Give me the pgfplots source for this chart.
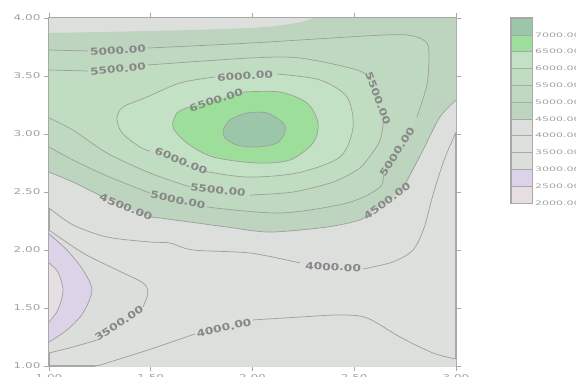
\documentclass[border=0pt]{standalone}
\usepackage{pgfplots}
\pgfplotsset{compat=1.18}
\usepackage{fontspec}
\setmainfont{DejaVu Sans}
\newfontfamily\tickfont[FakeStretch=1.5]{DejaVu Sans}
\newfontfamily\cbfont[FakeStretch=1.8]{DejaVu Sans}
\newfontfamily\lblfont[FakeStretch=1.25]{DejaVu Sans}
\definecolor{c7000}{RGB}{156,198,170}
\definecolor{c6500}{RGB}{158,222,155}
\definecolor{c6000}{RGB}{195,225,197}
\definecolor{c5500}{RGB}{192,221,194}
\definecolor{c5000}{RGB}{190,217,192}
\definecolor{c4500}{RGB}{189,212,191}
\definecolor{c4000}{RGB}{220,223,220}
\definecolor{c3500}{RGB}{222,224,222}
\definecolor{c3000}{RGB}{219,222,218}
\definecolor{c2500}{RGB}{221,211,232}
\definecolor{c2000}{RGB}{230,222,227}
\definecolor{linegray}{RGB}{158,158,158}
\definecolor{lblgray}{RGB}{136,136,136}
\definecolor{tickgray}{RGB}{160,160,160}
\definecolor{axgray}{RGB}{168,168,168}
\pgfplotsset{
  cfill/.style={draw=none, smooth, mark=none, fill=#1},
  cline/.style={draw=linegray, line width=0.7pt, smooth, mark=none},
}
\newcommand{\clabel}[4]{\node[rotate=#3, inner sep=0pt, text=lblgray, font=\lblfont\bfseries\fontsize{9.8}{10}\selectfont] at (axis cs:#1,#2) {#4};}
\begin{document}
\begin{tikzpicture}
\path[use as bounding box] (0,0) rectangle (576pt,376pt);
\begin{axis}[
  at={(49pt,10pt)}, anchor=south west,
  width=407pt, height=348pt, scale only axis,
  xmin=1, xmax=3, ymin=1, ymax=4,
  xtick={1,1.5,2,2.5,3}, ytick={1,1.5,2,2.5,3,3.5,4},
  tick align=outside, tick pos=both, major tick length=5pt,
  axis line style={draw=axgray, line width=1.2pt},
  every tick/.style={draw=axgray, line width=0.9pt},
  tick label style={font=\tickfont\fontsize{8}{9}\selectfont, text=tickgray},
  /pgf/number format/fixed, /pgf/number format/fixed zerofill,
  /pgf/number format/precision=2, /pgf/number format/assume math mode=true,
  axis background/.style={fill=c3500},
  clip=true,
]
% ---- filled regions ----
\addplot[cfill=c4000] coordinates {(0.85,2.50)(1,2.362)(1.118,2.216)(1.285,2.112)(1.496,2.069)(1.595,2.060)(1.708,2.000)(1.988,1.974)(2.233,1.888)(2.396,1.853)(2.543,1.836)(2.690,1.897)(2.789,2.000)(2.843,2.190)(2.877,2.414)(2.912,2.621)(2.951,2.819)(3,3.017)(3.1,3.25)(3.15,4.15)(0.85,4.15)} -- cycle;
\addplot[cfill=c4000] coordinates {(1.0,0.87)(1.236,1.0)(1.486,1.138)(1.717,1.276)(1.860,1.328)(2.002,1.397)(2.233,1.422)(2.430,1.440)(2.563,1.414)(2.725,1.250)(2.887,1.112)(3,1.060)(3.15,1.0)(3.15,0.85)(1.2,0.80)} -- cycle;
\addplot[cfill=c4500] coordinates {(0.85,3.87)(1,3.871)(1.496,3.888)(1.988,3.914)(2.184,3.948)(2.297,4)(2.4,4.15)(3.15,4.15)(3.15,3.35)(3,3.293)(2.921,3.147)(2.838,2.862)(2.740,2.534)(2.661,2.422)(2.577,2.319)(2.528,2.259)(2.366,2.198)(2.086,2.155)(1.875,2.198)(1.545,2.276)(1.496,2.284)(1.378,2.371)(1.265,2.457)(1.118,2.586)(1,2.672)(0.85,2.78)} -- cycle;
\addplot[cfill=c5000] coordinates {(0.85,3.73)(1,3.724)(1.191,3.716)(1.339,3.720)(1.486,3.741)(1.988,3.784)(2.641,3.853)(2.789,3.845)(2.857,3.784)(2.867,3.664)(2.857,3.422)(2.808,3.147)(2.710,2.845)(2.641,2.690)(2.627,2.543)(2.464,2.405)(2.135,2.319)(1.776,2.371)(1.634,2.431)(1.496,2.491)(1.285,2.638)(1.118,2.776)(1,2.888)(0.85,2.98)} -- cycle;
\addplot[cfill=c5500] coordinates {(0.85,3.56)(1,3.552)(1.191,3.543)(1.339,3.560)(1.486,3.595)(1.988,3.655)(2.233,3.655)(2.514,3.552)(2.582,3.466)(2.617,3.310)(2.646,3.155)(2.627,2.948)(2.563,2.776)(2.514,2.690)(2.396,2.586)(2.199,2.500)(1.988,2.474)(1.830,2.517)(1.693,2.543)(1.496,2.664)(1.285,2.836)(1.118,3.034)(1,3.138)(0.85,3.2)} -- cycle;
\addplot[cfill=c6000] coordinates {(2.120,3.517)(2.332,3.466)(2.464,3.319)(2.494,3.060)(2.430,2.802)(2.219,2.664)(1.973,2.629)(1.757,2.681)(1.649,2.767)(1.496,2.853)(1.447,2.888)(1.359,3.009)(1.334,3.138)(1.364,3.233)(1.482,3.319)(1.644,3.440)(1.816,3.492)(1.963,3.500)} -- cycle;
\addplot[cfill=c6500] coordinates {(1.821,3.293)(1.953,3.362)(2.135,3.362)(2.268,3.267)(2.322,3.095)(2.297,2.922)(2.184,2.776)(2.022,2.750)(1.806,2.802)(1.678,2.922)(1.609,3.060)(1.629,3.181)(1.688,3.233)} -- cycle;
\addplot[cfill=c7000] coordinates {(1.855,3.034)(1.889,3.121)(1.973,3.181)(2.071,3.181)(2.150,3.095)(2.160,3.017)(2.120,2.922)(2.022,2.888)(1.924,2.905)(1.865,2.966)} -- cycle;
\addplot[cfill=c3000] coordinates {(0.85,2.25)(1,2.172)(1.167,1.974)(1.334,1.828)(1.462,1.716)(1.486,1.629)(1.462,1.509)(1.344,1.366)(1.236,1.224)(1.118,1.164)(1,1.112)(0.85,1.08)} -- cycle;
\addplot[cfill=c2500] coordinates {(0.85,2.2)(1,2.138)(1.088,2.000)(1.167,1.828)(1.211,1.655)(1.167,1.457)(1.088,1.310)(1,1.207)(0.85,1.15)} -- cycle;
\addplot[cfill=c2000] coordinates {(0.85,1.95)(1,1.888)(1.044,1.810)(1.069,1.655)(1.044,1.483)(1,1.379)(0.85,1.32)} -- cycle;
% ---- contour lines ----
% 5000
\addplot[cline] coordinates {(1,3.724)(1.191,3.716)};
\addplot[cline] coordinates {(1.486,3.741)(1.988,3.784)(2.641,3.853)(2.789,3.845)(2.857,3.784)(2.867,3.664)(2.857,3.422)(2.808,3.147)};
\addplot[cline] coordinates {(2.641,2.690)(2.627,2.543)(2.464,2.405)(2.135,2.319)(1.776,2.371)};
\addplot[cline] coordinates {(1.496,2.491)(1.285,2.638)(1.118,2.776)(1,2.888)};
% 5500
\addplot[cline] coordinates {(1,3.552)(1.191,3.543)};
\addplot[cline] coordinates {(1.486,3.595)(1.988,3.655)(2.233,3.655)(2.514,3.552)(2.582,3.466)};
\addplot[cline] coordinates {(2.646,3.155)(2.627,2.948)(2.563,2.776)(2.514,2.690)(2.396,2.586)(2.199,2.500)(1.988,2.474)};
\addplot[cline] coordinates {(1.693,2.543)(1.496,2.664)(1.285,2.836)(1.118,3.034)(1,3.138)};
% 6000
\addplot[cline] coordinates {(2.120,3.517)(2.332,3.466)(2.464,3.319)(2.494,3.060)(2.430,2.802)(2.219,2.664)(1.973,2.629)(1.757,2.681)};
\addplot[cline] coordinates {(1.496,2.853)(1.447,2.888)(1.359,3.009)(1.334,3.138)(1.364,3.233)(1.482,3.319)(1.644,3.440)(1.816,3.492)};
% 6500
\addplot[cline] coordinates {(1.953,3.362)(2.135,3.362)(2.268,3.267)(2.322,3.095)(2.297,2.922)(2.184,2.776)(2.022,2.750)(1.806,2.802)(1.678,2.922)(1.609,3.060)(1.629,3.181)(1.688,3.233)};
% 7000
\addplot[cline] coordinates {(1.855,3.034)(1.889,3.121)(1.973,3.181)(2.071,3.181)(2.150,3.095)(2.160,3.017)(2.120,2.922)(2.022,2.888)(1.924,2.905)(1.865,2.966)(1.855,3.034)};
% 4500
\addplot[cline] coordinates {(1,2.672)(1.118,2.586)(1.265,2.457)};
\addplot[cline] coordinates {(1.496,2.284)(1.545,2.276)(1.875,2.198)(2.086,2.155)(2.366,2.198)(2.528,2.259)(2.577,2.319)};
\addplot[cline] coordinates {(2.740,2.534)(2.838,2.862)(2.921,3.147)(3,3.293)};
% 4000 upper
\addplot[cline] coordinates {(1,2.362)(1.118,2.216)(1.285,2.112)(1.496,2.069)(1.595,2.060)(1.708,2.000)(1.988,1.974)(2.233,1.888)};
\addplot[cline] coordinates {(2.543,1.836)(2.690,1.897)(2.789,2.000)(2.843,2.190)(2.877,2.414)(2.912,2.621)(2.951,2.819)(3,3.017)};
% 3500
\addplot[cline] coordinates {(1,2.172)(1.167,1.974)(1.334,1.828)(1.462,1.716)(1.486,1.629)(1.462,1.509)};
\addplot[cline] coordinates {(1.236,1.224)(1.118,1.164)(1,1.112)};
% 3000
\addplot[cline] coordinates {(1,2.138)(1.088,2.000)(1.167,1.828)(1.211,1.655)(1.167,1.457)(1.088,1.310)(1,1.207)};
% 2500
\addplot[cline] coordinates {(1,1.888)(1.044,1.810)(1.069,1.655)(1.044,1.483)(1,1.379)};
% 4000 lower
\addplot[cline] coordinates {(1.236,1.0)(1.486,1.138)(1.717,1.276)};
\addplot[cline] coordinates {(2.002,1.397)(2.233,1.422)(2.430,1.440)(2.563,1.414)(2.725,1.250)(2.887,1.112)(3,1.060)};
% ---- labels ----
\clabel{1.339}{3.720}{4}{5000.00}
\clabel{1.339}{3.560}{5}{5500.00}
\clabel{1.963}{3.500}{3}{6000.00}
\clabel{1.821}{3.293}{18}{6500.00}
\clabel{1.649}{2.767}{-23}{6000.00}
\clabel{1.830}{2.517}{-7}{5500.00}
\clabel{1.634}{2.431}{-12}{5000.00}
\clabel{1.378}{2.371}{-22}{4500.00}
\clabel{2.617}{3.310}{-70}{5500.00}
\clabel{2.710}{2.845}{57}{5000.00}
\clabel{2.661}{2.422}{37}{4500.00}
\clabel{2.396}{1.853}{-3}{4000.00}
\clabel{1.344}{1.366}{33}{3500.00}
\clabel{1.860}{1.328}{13}{4000.00}
\end{axis}
% ---- colour bar ----
\begin{axis}[
  at={(511pt,173pt)}, anchor=south west,
  width=21pt, height=185pt, scale only axis,
  xmin=0, xmax=1, ymin=2000, ymax=7500,
  xtick=\empty, ytick={2000,2500,3000,3500,4000,4500,5000,5500,6000,6500,7000},
  yticklabel pos=right, major tick length=0pt,
  axis line style={draw=axgray, line width=1.3pt},
  yticklabel style={font=\cbfont\fontsize{6.1}{7}\selectfont, text=tickgray, anchor=west, inner sep=0pt, xshift=3pt},
  /pgf/number format/fixed, /pgf/number format/fixed zerofill,
  /pgf/number format/precision=2, /pgf/number format/1000 sep={},
  /pgf/number format/assume math mode=true,
]
\addplot[fill=c2000, draw=axgray, line width=0.6pt] coordinates {(0,2000)(1,2000)(1,2500)(0,2500)} -- cycle;
\addplot[fill=c2500, draw=axgray, line width=0.6pt] coordinates {(0,2500)(1,2500)(1,3000)(0,3000)} -- cycle;
\addplot[fill=c3000, draw=axgray, line width=0.6pt] coordinates {(0,3000)(1,3000)(1,3500)(0,3500)} -- cycle;
\addplot[fill=c3500, draw=axgray, line width=0.6pt] coordinates {(0,3500)(1,3500)(1,4000)(0,4000)} -- cycle;
\addplot[fill=c4000, draw=axgray, line width=0.6pt] coordinates {(0,4000)(1,4000)(1,4500)(0,4500)} -- cycle;
\addplot[fill=c4500, draw=axgray, line width=0.6pt] coordinates {(0,4500)(1,4500)(1,5000)(0,5000)} -- cycle;
\addplot[fill=c5000, draw=axgray, line width=0.6pt] coordinates {(0,5000)(1,5000)(1,5500)(0,5500)} -- cycle;
\addplot[fill=c5500, draw=axgray, line width=0.6pt] coordinates {(0,5500)(1,5500)(1,6000)(0,6000)} -- cycle;
\addplot[fill=c6000, draw=axgray, line width=0.6pt] coordinates {(0,6000)(1,6000)(1,6500)(0,6500)} -- cycle;
\addplot[fill=c6500, draw=axgray, line width=0.6pt] coordinates {(0,6500)(1,6500)(1,7000)(0,7000)} -- cycle;
\addplot[fill=c7000, draw=axgray, line width=0.6pt] coordinates {(0,7000)(1,7000)(1,7500)(0,7500)} -- cycle;
\end{axis}
\end{tikzpicture}
\end{document}
